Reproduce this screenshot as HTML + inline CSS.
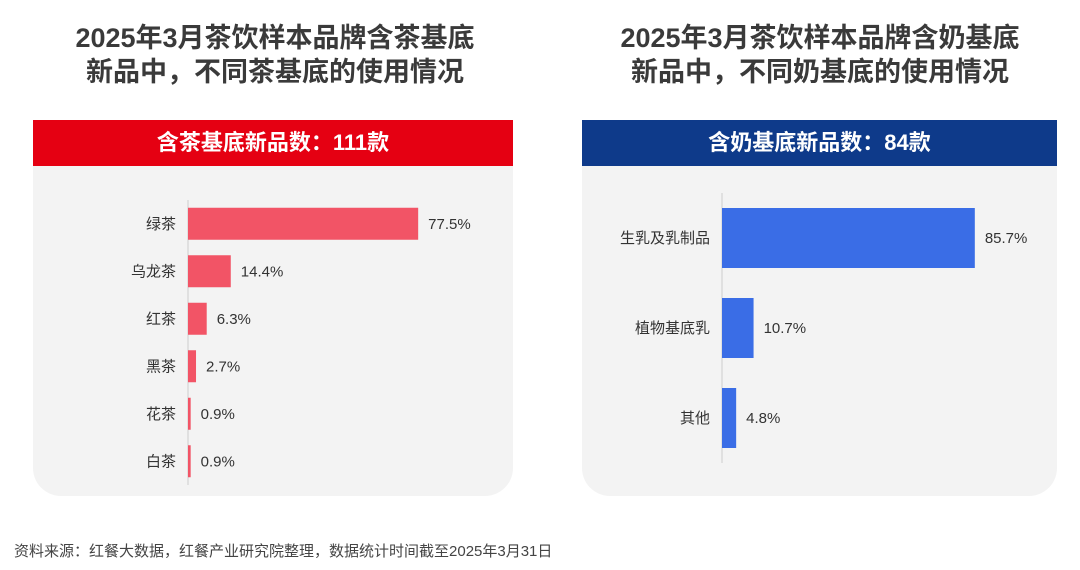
<!DOCTYPE html>
<html><head><meta charset="utf-8"><style>
body{margin:0;width:1080px;height:570px;background:#fff;font-family:"Liberation Sans","Noto Sans CJK SC",sans-serif;position:relative;overflow:hidden}
.title{position:absolute;font-size:27px;font-weight:bold;color:#3a3a3a;text-align:center;line-height:34px}
.banner{position:absolute;height:46px;color:#fff;font-size:22px;font-weight:bold;text-align:center;line-height:46px}
.panel{position:absolute;background:#f3f3f3;border-radius:0 0 28px 28px}
.src{position:absolute;left:14px;top:540px;font-size:15px;color:#444}
</style></head><body>
<div class="title" style="left:20px;top:21px;width:510px">2025年3月茶饮样本品牌含茶基底<br>新品中，不同茶基底的使用情况</div>
<div class="title" style="left:560px;top:21px;width:520px">2025年3月茶饮样本品牌含奶基底<br>新品中，不同奶基底的使用情况</div>
<div class="panel" style="left:33px;top:166px;width:480px;height:330px"></div>
<div class="panel" style="left:582px;top:166px;width:475px;height:330px"></div>
<div class="banner" style="left:33px;top:120px;width:480px;background:#e50012">含茶基底新品数：111款</div>
<div class="banner" style="left:582px;top:120px;width:475px;background:#0e3a8a">含奶基底新品数：84款</div>
<svg id="chart" width="1080" height="570" style="position:absolute;left:0;top:0"></svg>
<div class="src">资料来源：红餐大数据，红餐产业研究院整理，数据统计时间截至2025年3月31日</div>
<script>
const teaCats=["绿茶","乌龙茶","红茶","黑茶","花茶","白茶"];
const teaVals=[77.5,14.4,6.3,2.7,0.9,0.9];
const milkCats=["生乳及乳制品","植物基底乳","其他"];
const milkVals=[85.7,10.7,4.8];
const svg=document.getElementById('chart');
const NS='http://www.w3.org/2000/svg';
function mk(t,a,txt){const e=document.createElementNS(NS,t);for(const k in a)e.setAttribute(k,a[k]);if(txt!=null)e.textContent=txt;svg.appendChild(e);return e;}
function draw(cats,vals,x0,scale,yTop,step,bh,color,prefix){
  const ax=mk('line',{x1:x0,x2:x0,y1:yTop-8,y2:yTop+step*cats.length-8,stroke:'#ccc','stroke-width':1});
  
  
  cats.forEach((c,i)=>{
    const cy=yTop+step*i+step/2-8;
    const w=Math.max(vals[i]*scale,2);
    const r=mk('rect',{x:x0,y:cy-bh/2,width:w,height:bh,fill:color});
    
    
    const l=mk('text',{x:x0-12,y:cy+5,'text-anchor':'end','font-size':15,fill:'#333'},c);
    
    
    const v=mk('text',{x:x0+w+10,y:cy+5,'font-size':15,fill:'#333'},vals[i].toFixed(1)+'%');
    
    
  });
}
draw(teaCats,teaVals,188,2.97,208,47.5,32,'#f25466','tea');
draw(milkCats,milkVals,722,2.95,201,90,60,'#3a6de6','milk');
</script>
</body></html>
